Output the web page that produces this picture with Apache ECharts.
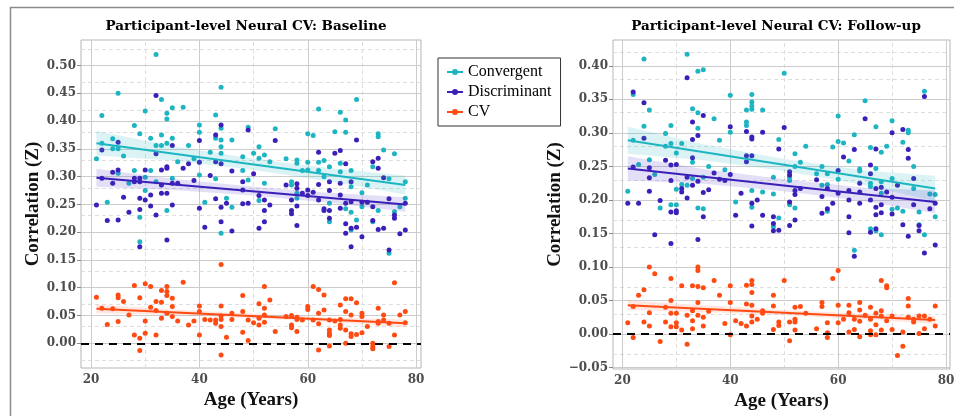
<!DOCTYPE html>
<html>
<head>
<meta charset="utf-8">
<title>Participant-level Neural CV</title>
<script src="https://cdn.jsdelivr.net/npm/echarts@6/dist/echarts.min.js"></script>
<style>
  html, body { margin: 0; padding: 0; background: #fff; }
  #chart { width: 954px; height: 416px; }
</style>
</head>
<body>
<div id="chart"></div>
<script>
// ---- data: [age, correlation (Z)] ----
const baseConv = [[21,.332],[22,.41],[22,.36],[23,.254],[24,.368],[24,.35],[25,.45],[25,.35],[25,.306],[26,.337],[27,.288],[28,.392],[28,.311],[29,.377],[29,.227],[29,.183],[30,.418],[30,.299],[30,.275],[31,.369],[31,.311],[32,.52],[32,.356],[32,.291],[33,.439],[33,.375],[33,.356],[34,.414],[34,.404],[34,.36],[34,.239],[35,.424],[35,.369],[35,.297],[36,.327],[37,.425],[38,.356],[39,.332],[40,.393],[40,.38],[40,.303],[41,.254],[42,.344],[43,.411],[43,.369],[43,.296],[44,.461],[44,.387],[44,.366],[44,.354],[44,.342],[44,.198],[45,.261],[46,.366],[46,.245],[48,.336],[48,.311],[49,.389],[49,.294],[50,.342],[51,.354],[51,.333],[51,.257],[52,.339],[52,.288],[53,.327],[54,.386],[56,.332],[57,.291],[57,.285],[58,.33],[58,.324],[58,.27],[58,.261],[59,.311],[60,.377],[60,.326],[60,.312],[61,.374],[62,.422],[62,.326],[62,.311],[63,.329],[63,.3],[64,.318],[64,.252],[64,.219],[65,.381],[66,.416],[66,.324],[66,.309],[67,.402],[67,.38],[67,.242],[68,.311],[68,.282],[68,.236],[68,.204],[69,.439],[69,.222],[70,.271],[70,.246],[71,.285],[72,.318],[72,.219],[73,.377],[73,.372],[73,.239],[74,.348],[75,.296],[75,.162],[76,.341],[76,.237],[77,.246],[78,.291],[78,.261]];
const baseDisc = [[21,.249],[22,.348],[22,.297],[23,.221],[24,.308],[24,.288],[25,.362],[25,.312],[25,.222],[26,.263],[27,.236],[28,.297],[28,.291],[29,.297],[29,.291],[29,.261],[29,.241],[29,.174],[30,.312],[30,.258],[31,.267],[31,.247],[32,.446],[32,.341],[32,.231],[33,.312],[33,.285],[33,.27],[34,.318],[34,.315],[34,.27],[34,.186],[35,.356],[35,.288],[35,.249],[36,.288],[37,.315],[38,.323],[39,.293],[40,.365],[40,.326],[40,.243],[41,.209],[42,.302],[43,.375],[43,.26],[43,.327],[44,.393],[44,.323],[44,.245],[44,.219],[45,.252],[46,.31],[46,.202],[48,.291],[48,.276],[48,.251],[49,.384],[49,.252],[50,.305],[51,.266],[51,.207],[52,.258],[52,.239],[52,.219],[53,.249],[54,.365],[56,.285],[57,.258],[57,.239],[57,.233],[58,.287],[58,.279],[58,.247],[58,.212],[59,.27],[60,.276],[60,.266],[61,.272],[62,.344],[62,.286],[62,.258],[63,.242],[63,.239],[64,.291],[64,.275],[64,.239],[64,.225],[65,.342],[66,.347],[66,.288],[66,.267],[66,.243],[67,.323],[67,.252],[67,.215],[67,.198],[68,.291],[68,.255],[68,.207],[68,.174],[69,.366],[69,.209],[70,.254],[70,.192],[71,.254],[72,.327],[72,.246],[72,.221],[73,.333],[73,.315],[73,.205],[74,.298],[74,.207],[75,.26],[75,.168],[76,.231],[76,.225],[77,.197],[78,.252],[78,.204]];
const baseCV = [[21,.083],[22,.063],[23,.034],[24,.062],[25,.087],[25,.082],[25,.039],[26,.075],[27,.051],[28,.104],[28,.015],[29,.082],[29,.009],[29,-.013],[30,.107],[30,.04],[30,.018],[31,.102],[31,.065],[32,.075],[32,.059],[32,.015],[33,.095],[33,.074],[33,.045],[34,.102],[34,.093],[34,.086],[34,.054],[35,.081],[35,.066],[35,.048],[36,.04],[37,.11],[38,.033],[39,.04],[40,.067],[40,.057],[40,.015],[41,.043],[42,.042],[43,.042],[43,.036],[44,.142],[44,.067],[44,.049],[44,.043],[44,.03],[44,-.021],[45,.011],[46,.054],[46,.043],[48,.086],[48,.057],[48,.02],[49,.042],[49,.005],[50,.037],[51,.071],[51,.045],[51,.033],[52,.102],[52,.063],[52,.051],[52,.038],[53,.078],[54,.021],[56,.048],[57,.05],[57,.033],[57,.028],[58,.047],[58,.043],[58,.021],[59,.042],[60,.066],[60,.061],[61,.042],[61,.102],[62,.097],[62,.054],[62,.035],[62,-.012],[63,.087],[63,.06],[64,.042],[64,.024],[64,.018],[64,.014],[64,-.005],[65,.04],[66,.069],[66,.043],[66,.033],[66,.027],[67,.08],[67,.057],[67,.024],[67,0],[68,.08],[68,.051],[68,.017],[68,.012],[69,.073],[69,.016],[70,.054],[70,.048],[70,.019],[71,.03],[72,0],[72,-.006],[72,-.01],[73,.063],[73,.039],[73,.036],[74,.051],[74,.042],[75,.036],[75,-.006],[76,.109],[76,.015],[77,.051],[78,.057],[78,.037]];

const followConv = [[21,.213],[22,.357],[22,.289],[23,.253],[24,.41],[24,.31],[25,.334],[25,.26],[26,.238],[27,.188],[28,.299],[28,.28],[29,.311],[29,.284],[29,.193],[30,.27],[30,.216],[30,.193],[31,.284],[31,.223],[32,.417],[32,.222],[33,.336],[33,.256],[33,.232],[34,.392],[34,.33],[34,.307],[34,.188],[35,.394],[35,.234],[35,.187],[36,.25],[37,.321],[38,.289],[39,.245],[40,.356],[40,.301],[41,.197],[43,.334],[43,.316],[43,.311],[44,.357],[44,.346],[44,.34],[44,.335],[44,.214],[44,.189],[46,.334],[46,.212],[48,.234],[48,.209],[48,.16],[49,.29],[49,.173],[50,.389],[51,.234],[51,.229],[51,.193],[52,.269],[52,.25],[52,.188],[53,.256],[54,.28],[56,.239],[57,.25],[57,.222],[58,.239],[58,.223],[58,.183],[59,.279],[60,.325],[60,.287],[60,.231],[61,.285],[62,.258],[63,.297],[63,.125],[64,.246],[64,.243],[65,.348],[66,.278],[66,.225],[66,.22],[66,.157],[67,.309],[67,.247],[67,.154],[68,.271],[68,.227],[68,.21],[68,.148],[69,.28],[70,.318],[70,.232],[70,.186],[71,.188],[72,.286],[72,.183],[73,.304],[73,.3],[74,.25],[74,.217],[75,.182],[75,.163],[76,.362],[76,.148],[77,.209],[78,.208],[78,.175]];
const followDisc = [[21,.195],[22,.361],[22,.249],[23,.195],[24,.345],[24,.292],[25,.248],[25,.233],[25,.213],[26,.148],[27,.199],[28,.259],[29,.252],[29,.229],[29,.182],[29,.135],[30,.253],[30,.184],[30,.181],[31,.217],[31,.212],[32,.382],[32,.234],[32,.203],[33,.316],[33,.29],[33,.263],[33,.222],[34,.296],[34,.228],[34,.141],[35,.326],[35,.211],[35,.175],[36,.215],[37,.24],[38,.231],[39,.229],[40,.309],[40,.238],[41,.177],[42,.21],[43,.302],[43,.266],[43,.257],[44,.294],[44,.291],[44,.266],[44,.195],[44,.161],[45,.2],[46,.301],[46,.177],[48,.175],[48,.165],[48,.154],[49,.276],[49,.155],[50,.308],[51,.242],[51,.237],[51,.197],[51,.162],[52,.214],[52,.208],[52,.17],[53,.217],[56,.23],[57,.205],[57,.18],[58,.217],[58,.187],[59,.195],[60,.244],[60,.21],[61,.264],[62,.214],[62,.2],[62,.175],[62,.151],[63,.275],[63,.116],[64,.225],[64,.212],[64,.195],[65,.321],[66,.252],[66,.239],[66,.2],[66,.152],[67,.276],[67,.217],[67,.189],[67,.178],[67,.157],[68,.219],[68,.193],[68,.181],[69,.212],[70,.3],[70,.204],[70,.179],[71,.222],[72,.305],[72,.163],[73,.275],[73,.262],[73,.146],[74,.232],[74,.193],[75,.162],[75,.154],[76,.354],[76,.121],[77,.187],[78,.195],[78,.133]];
const followCV = [[21,.017],[22,.041],[22,-.005],[23,.058],[24,.066],[24,.018],[25,.1],[25,.032],[25,.012],[26,.09],[27,-.011],[28,.04],[28,.018],[29,.083],[29,.05],[29,.031],[29,.011],[30,.031],[30,.017],[30,.011],[31,.072],[31,.006],[32,.028],[32,-.015],[33,.072],[33,.035],[33,.02],[33,.008],[34,.1],[34,.095],[34,.071],[34,.047],[34,.028],[35,.069],[35,.025],[35,.012],[36,.034],[37,.08],[38,.058],[39,.016],[40,.072],[40,.047],[40,-.001],[41,.02],[42,.016],[43,.073],[43,.045],[43,.012],[44,.08],[44,.074],[44,.062],[44,.043],[44,.027],[44,.018],[45,.022],[46,.035],[46,.031],[48,.058],[48,.042],[48,.007],[49,.018],[49,.013],[50,.08],[51,.018],[51,-.01],[52,.04],[52,.022],[52,.018],[52,.006],[53,.041],[54,.031],[56,.008],[57,.047],[57,.041],[58,.017],[58,.002],[58,-.005],[59,.083],[60,.095],[60,.043],[60,.017],[61,.022],[62,.043],[62,.032],[62,.003],[63,.022],[63,.007],[64,.047],[64,.036],[64,.019],[64,-.004],[65,.028],[66,.04],[66,.022],[66,.005],[66,-.001],[67,.031],[67,.014],[67,-.001],[68,.08],[68,.035],[68,.027],[68,.006],[69,.072],[69,.069],[69,.02],[70,.027],[70,.007],[71,-.032],[72,.003],[72,-.018],[73,.053],[73,.042],[73,.025],[74,.022],[74,.018],[75,.027],[75,.001],[76,.027],[76,.008],[77,.022],[78,.042],[78,.012]];

// linear fits (value at age 21 and age 78)
const fitAges = [21, 78];
const baseFit = { conv: [0.360, 0.285], disc: [0.298, 0.250], cv: [0.062, 0.036] };
const followFit = { conv: [0.289, 0.217], disc: [0.247, 0.197], cv: [0.043, 0.021] };

// confidence bands
const bandAges = [21, 35, 50, 65, 78];
const baseConvHi = [0.382, 0.355, 0.332, 0.314, 0.302];
const baseConvLo = [0.338, 0.329, 0.312, 0.290, 0.268];
const baseDiscHi = [0.314, 0.296, 0.282, 0.270, 0.263];
const baseDiscLo = [0.282, 0.276, 0.266, 0.252, 0.237];
const baseCVHi = [0.070, 0.061, 0.053, 0.046, 0.043];
const baseCVLo = [0.054, 0.051, 0.045, 0.038, 0.029];
const followConvHi = [0.309, 0.283, 0.261, 0.244, 0.236];
const followConvLo = [0.269, 0.259, 0.243, 0.222, 0.198];
const followDiscHi = [0.265, 0.246, 0.231, 0.218, 0.214];
const followDiscLo = [0.229, 0.224, 0.213, 0.198, 0.180];
const followCVHi = [0.050, 0.043, 0.036, 0.030, 0.027];
const followCVLo = [0.036, 0.033, 0.028, 0.022, 0.015];

// ticks
const xTicks = [20, 40, 60, 80];
const xMinor = [30, 50, 70];
const baseYTicks = [0, 0.05, 0.10, 0.15, 0.20, 0.25, 0.30, 0.35, 0.40, 0.45, 0.50];
const baseYMinor = [-0.025, 0.025, 0.075, 0.125, 0.175, 0.225, 0.275, 0.325, 0.375, 0.425, 0.475, 0.525];
const followYTicks = [-0.05, 0, 0.05, 0.10, 0.15, 0.20, 0.25, 0.30, 0.35, 0.40];
const followYMinor = [-0.025, 0.025, 0.075, 0.125, 0.175, 0.225, 0.275, 0.325, 0.375, 0.425];

const titles = ['Participant-level Neural CV: Baseline', 'Participant-level Neural CV: Follow-up'];
const names = ['Convergent', 'Discriminant', 'CV'];

const colors = { conv: '#1db5c1', disc: '#3b1fb8', cv: '#ff4a12' };
const fills = { conv: 'rgba(29,181,193,0.16)', disc: 'rgba(75,55,200,0.16)', cv: 'rgba(255,90,50,0.15)' };

const serif = 'Liberation Serif';
const tickFont = 'DejaVu Serif';

const chart = echarts.init(document.getElementById('chart'));

function fmtY(v) {
  return (v < 0 ? '\u2212' : '') + Math.abs(v).toFixed(2);
}

function scatter(name, idx, data, color) {
  return {
    name: name, type: 'scatter', xAxisIndex: idx, yAxisIndex: idx,
    data: data, symbolSize: 5, z: 2, silent: true,
    itemStyle: { color: color, opacity: 1 }
  };
}

function band(name, idx, hi, lo, fill) {
  return {
    name: name, type: 'custom', xAxisIndex: idx, yAxisIndex: idx,
    data: [0], z: 3, silent: true,
    renderItem: function (params, api) {
      const pts = [];
      bandAges.forEach((a, i) => pts.push(api.coord([a, hi[i]])));
      for (let i = bandAges.length - 1; i >= 0; i--) pts.push(api.coord([bandAges[i], lo[i]]));
      return { type: 'polygon', shape: { points: pts }, style: { fill: fill } };
    }
  };
}

function fitLine(name, idx, ends, color) {
  return {
    name: name, type: 'line', xAxisIndex: idx, yAxisIndex: idx,
    data: [[fitAges[0], ends[0]], [fitAges[1], ends[1]]],
    symbol: 'none', z: 4, silent: true,
    lineStyle: { color: color, width: 2 }, itemStyle: { color: color }
  };
}

// background grid lines drawn as markLines (axes don't start on a tick)
function gridLines(idx, yTicks, yMinor) {
  const major = { color: '#cccccc', width: 1, type: 'solid' };
  const minor = { color: '#dedede', width: 1, type: [4, 3] };
  const d = [];
  xMinor.forEach(v => d.push({ xAxis: v, lineStyle: minor }));
  yMinor.forEach(v => d.push({ yAxis: v, lineStyle: minor }));
  xTicks.forEach(v => d.push({ xAxis: v, lineStyle: major }));
  yTicks.forEach(v => d.push({ yAxis: v, lineStyle: major }));
  return {
    type: 'line', xAxisIndex: idx, yAxisIndex: idx, data: [], silent: true,
    markLine: { silent: true, symbol: ['none', 'none'], label: { show: false }, z: 1, animation: false, data: d }
  };
}

function zeroLine(idx) {
  return {
    type: 'line', xAxisIndex: idx, yAxisIndex: idx, data: [], silent: true,
    markLine: {
      silent: true, symbol: ['none', 'none'], label: { show: false }, z: 5, animation: false,
      data: [{ yAxis: 0, lineStyle: { color: '#000', width: 2, type: [8, 6] } }]
    }
  };
}

function xAxis(idx, min, max) {
  return {
    gridIndex: idx, type: 'value', min: min, max: max,
    axisLine: { show: false }, splitLine: { show: false },
    axisTick: { show: true, customValues: xTicks, length: 4, lineStyle: { color: '#888' } },
    axisLabel: { customValues: xTicks, margin: 6, color: '#4d4d4d', fontFamily: tickFont, fontWeight: 'bold', fontSize: 12 },
    name: 'Age (Years)', nameLocation: 'middle', nameGap: 19,
    nameTextStyle: { fontFamily: serif, fontWeight: 'bold', fontSize: 19, color: '#111' }
  };
}

function yAxis(idx, min, max, ticks, gap) {
  return {
    gridIndex: idx, type: 'value', min: min, max: max,
    axisLine: { show: false }, splitLine: { show: false },
    axisTick: { show: true, customValues: ticks, length: 4, lineStyle: { color: '#888' } },
    axisLabel: { customValues: ticks, formatter: fmtY, margin: 5, color: '#4d4d4d', fontFamily: tickFont, fontWeight: 'bold', fontSize: 12 },
    name: 'Correlation (Z)', nameLocation: 'middle', nameGap: gap,
    nameTextStyle: { fontFamily: serif, fontWeight: 'bold', fontSize: 19, color: '#111' }
  };
}

const gridStyle = { show: true, borderColor: '#b5b5b5', borderWidth: 1, backgroundColor: '#fff', outerBoundsMode: 'none' };

const titleStyle = { fontFamily: 'DejaVu Serif', fontWeight: 'bold', fontSize: 13.5, color: '#000' };

const option = {
  animation: false,
  backgroundColor: '#fff',
  title: [
    { text: titles[0], left: 246, top: 19, textAlign: 'center', padding: 0, textStyle: titleStyle },
    { text: titles[1], left: 776, top: 19, textAlign: 'center', padding: 0, textStyle: titleStyle }
  ],
  legend: {
    data: names, orient: 'vertical', left: 438, top: 58,
    padding: [5, 9, 5, 9], itemGap: 2, itemWidth: 16, itemHeight: 6,
    icon: 'path://M0,5h16v2h-16z M5,6a3,3 0 1,1 6,0a3,3 0 1,1 -6,0z',
    borderColor: '#333', borderWidth: 1, selectedMode: false,
    textStyle: { fontFamily: serif, fontSize: 16, color: '#000', lineHeight: 18 }
  },
  graphic: [{
    type: 'rect', silent: true, z: -1,
    shape: { x: 10.5, y: 7.5, width: 960, height: 420 },
    style: { fill: 'none', stroke: '#8a8a8a', lineWidth: 1.5 }
  }],
  grid: [
    Object.assign({ left: 81, top: 40, width: 340, height: 328 }, gridStyle),
    Object.assign({ left: 613, top: 40, width: 337, height: 329 }, gridStyle)
  ],
  xAxis: [xAxis(0, 18.15, 80.9), xAxis(1, 18.26, 80.74)],
  yAxis: [yAxis(0, -0.0445, 0.546, baseYTicks, 38), yAxis(1, -0.052, 0.4384, followYTicks, 41)],
  series: [
    scatter(names[0], 0, baseConv, colors.conv),
    scatter(names[1], 0, baseDisc, colors.disc),
    scatter(names[2], 0, baseCV, colors.cv),
    scatter(names[0], 1, followConv, colors.conv),
    scatter(names[1], 1, followDisc, colors.disc),
    scatter(names[2], 1, followCV, colors.cv),
    gridLines(0, baseYTicks, baseYMinor),
    gridLines(1, followYTicks, followYMinor),
    zeroLine(0),
    zeroLine(1),
    band(names[0], 0, baseConvHi, baseConvLo, fills.conv),
    band(names[1], 0, baseDiscHi, baseDiscLo, fills.disc),
    band(names[2], 0, baseCVHi, baseCVLo, fills.cv),
    band(names[0], 1, followConvHi, followConvLo, fills.conv),
    band(names[1], 1, followDiscHi, followDiscLo, fills.disc),
    band(names[2], 1, followCVHi, followCVLo, fills.cv),
    fitLine(names[0], 0, baseFit.conv, colors.conv),
    fitLine(names[1], 0, baseFit.disc, colors.disc),
    fitLine(names[2], 0, baseFit.cv, colors.cv),
    fitLine(names[0], 1, followFit.conv, colors.conv),
    fitLine(names[1], 1, followFit.disc, colors.disc),
    fitLine(names[2], 1, followFit.cv, colors.cv)
  ]
};

chart.setOption(option);
</script>
</body>
</html>
